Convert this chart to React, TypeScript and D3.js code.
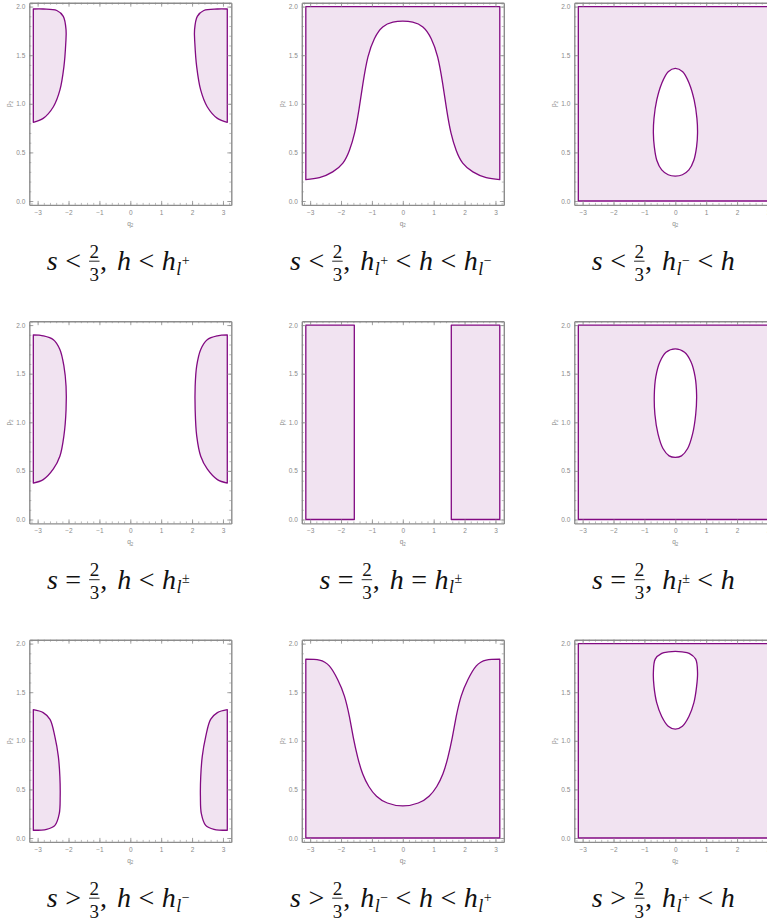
import React, { useEffect, useRef } from "react";
import * as d3 from "d3";

const W = 767;
const H = 922;

// tick values of every frame
const xMajor = [-3, -2, -1, 0, 1, 2, 3];
const yMajor = [0, 0.5, 1, 1.5, 2];

// boundary curves, [q2, p2]
const lobeA_left = [[-3.14, 0.81], [-2.82, 0.85], [-2.49, 0.97], [-2.28, 1.14], [-2.15, 1.38], [-2.09, 1.62], [-2.08, 1.76], [-2.17, 1.9], [-2.38, 1.96], [-2.82, 1.975], [-3.14, 1.975]];
const lobeA_right = [[3.14, 0.81], [2.82, 0.85], [2.49, 0.97], [2.28, 1.14], [2.15, 1.38], [2.09, 1.62], [2.08, 1.76], [2.17, 1.9], [2.38, 1.96], [2.82, 1.975], [3.14, 1.975]];
const bellB = [[-3.14, 0.22], [-2.7, 0.24], [-2.27, 0.3], [-1.94, 0.39], [-1.73, 0.52], [-1.56, 0.7], [-1.42, 0.94], [-1.29, 1.21], [-1.13, 1.48], [-0.92, 1.67], [-0.65, 1.79], [-0.32, 1.84], [0, 1.85], [0.32, 1.84], [0.65, 1.79], [0.92, 1.67], [1.13, 1.48], [1.29, 1.21], [1.42, 0.94], [1.56, 0.7], [1.73, 0.52], [1.94, 0.39], [2.27, 0.3], [2.7, 0.24], [3.14, 0.22]];
const eggC = [[0, 1.365], [-0.23, 1.33], [-0.44, 1.21], [-0.6, 1.04], [-0.69, 0.85], [-0.71, 0.7], [-0.68, 0.56], [-0.6, 0.42], [-0.44, 0.32], [-0.23, 0.27], [0, 0.257], [0.23, 0.27], [0.44, 0.32], [0.6, 0.42], [0.69, 0.56], [0.72, 0.7], [0.7, 0.85], [0.61, 1.04], [0.45, 1.21], [0.24, 1.33]];
const lobeD_left = [[-3.14, 0.375], [-2.82, 0.41], [-2.49, 0.52], [-2.28, 0.65], [-2.15, 0.86], [-2.08, 1.13], [-2.08, 1.37], [-2.15, 1.58], [-2.28, 1.75], [-2.49, 1.85], [-2.82, 1.89], [-3.14, 1.9]];
const lobeD_right = [[3.14, 0.375], [2.82, 0.41], [2.49, 0.52], [2.28, 0.65], [2.15, 0.86], [2.1, 1.13], [2.1, 1.37], [2.15, 1.58], [2.28, 1.75], [2.49, 1.85], [2.82, 1.89], [3.14, 1.9]];
const stripsE = [[-3.14, -1.57], [1.57, 3.14]];
const eggF = [[0, 1.755], [-0.3, 1.72], [-0.5, 1.62], [-0.63, 1.47], [-0.68, 1.28], [-0.66, 1.08], [-0.56, 0.88], [-0.4, 0.73], [-0.2, 0.655], [0, 0.64], [0.2, 0.655], [0.4, 0.73], [0.56, 0.88], [0.66, 1.08], [0.69, 1.28], [0.64, 1.47], [0.51, 1.62], [0.3, 1.72]];
const lobeG_left = [[-3.14, 1.32], [-2.82, 1.29], [-2.6, 1.22], [-2.44, 1.04], [-2.33, 0.84], [-2.28, 0.63], [-2.27, 0.43], [-2.3, 0.25], [-2.44, 0.13], [-2.71, 0.09], [-3.14, 0.08]];
const lobeG_right = [[3.14, 1.32], [2.82, 1.29], [2.6, 1.22], [2.44, 1.04], [2.33, 0.84], [2.28, 0.63], [2.27, 0.43], [2.3, 0.25], [2.44, 0.13], [2.71, 0.09], [3.14, 0.08]];
const bellH = [[-3.14, 1.84], [-2.7, 1.83], [-2.38, 1.77], [-2.11, 1.63], [-1.89, 1.46], [-1.73, 1.25], [-1.6, 1.03], [-1.46, 0.83], [-1.3, 0.66], [-1.1, 0.53], [-0.85, 0.43], [-0.5, 0.36], [0, 0.33], [0.5, 0.36], [0.85, 0.43], [1.1, 0.53], [1.3, 0.66], [1.46, 0.83], [1.6, 1.03], [1.73, 1.25], [1.89, 1.46], [2.11, 1.63], [2.38, 1.77], [2.7, 1.83], [3.14, 1.84]];
const eggI = [[0, 1.92], [-0.22, 1.915], [-0.44, 1.9], [-0.65, 1.84], [-0.71, 1.7], [-0.69, 1.56], [-0.6, 1.39], [-0.44, 1.25], [-0.23, 1.15], [0, 1.12], [0.23, 1.15], [0.44, 1.25], [0.6, 1.39], [0.69, 1.56], [0.72, 1.7], [0.66, 1.84], [0.45, 1.9], [0.22, 1.915]];

// captions, tokenised: "h:+" means h with subscript l and superscript sign
const captions = [
  ["s", "<", "2/3", ",", "h", "<", "h:+"],
  ["s", "<", "2/3", ",", "h:+", "<", "h", "<", "h:\u2212"],
  ["s", "<", "2/3", ",", "h:\u2212", "<", "h"],
  ["s", "=", "2/3", ",", "h", "<", "h:\u00b1"],
  ["s", "=", "2/3", ",", "h", "=", "h:\u00b1"],
  ["s", "=", "2/3", ",", "h:\u00b1", "<", "h"],
  ["s", ">", "2/3", ",", "h", "<", "h:\u2212"],
  ["s", ">", "2/3", ",", "h:\u2212", "<", "h", "<", "h:+"],
  ["s", ">", "2/3", ",", "h:+", "<", "h"],
];

const FILL = "#f1e3f1";
const LINE = "#820a82";
const FRAME = "#8c8c8c";
const SERIF = "'Liberation Serif', 'Times New Roman', serif";

const App = () => {
  const ref = useRef<SVGSVGElement>(null);

  useEffect(() => {
    const svg = d3.select(ref.current);
    svg.selectAll("*").remove();

    const curve = d3.line<number[]>().curve(d3.curveCatmullRom.alpha(0.5));
    const smoothX = d3.line<number[]>().curve(d3.curveNatural);
    const loop = d3.line<number[]>().curve(d3.curveCatmullRomClosed.alpha(0.5));

    for (let i = 0; i < 9; i++) {
      const col = i % 3;
      const row = Math.floor(i / 3);
      const x0 = 130.3 + 272.5 * col;
      const y0 = 201 + 318.5 * row;

      const x = d3.scaleLinear().domain([-3.27, 3.27]).range([x0 - 101, x0 + 101]);
      const y = d3.scaleLinear().domain([-0.04, 2.04]).range([y0 + 3.9, y0 - 198.3]);
      const P = (pts: number[][]) => pts.map(d => [x(d[0]), y(d[1])]);
      const rect = (q1: number, q2: number, p1: number, p2: number) =>
        `M${x(q1)},${y(p1)}L${x(q2)},${y(p1)}L${x(q2)},${y(p2)}L${x(q1)},${y(p2)}Z`;

      const g = svg.append("g");

      // region shapes
      let paths: string[] = [];
      let rule = "nonzero";
      if (i === 0) paths = [curve(P(lobeA_left)) + "Z", curve(P(lobeA_right)) + "Z"];
      if (i === 3) paths = [curve(P(lobeD_left)) + "Z", curve(P(lobeD_right)) + "Z"];
      if (i === 6) paths = [curve(P(lobeG_left)) + "Z", curve(P(lobeG_right)) + "Z"];
      if (i === 1) paths = [smoothX(P(bellB)) + `L${x(3.14)},${y(2)}L${x(-3.14)},${y(2)}Z`];
      if (i === 7) paths = [smoothX(P(bellH)) + `L${x(3.14)},${y(0)}L${x(-3.14)},${y(0)}Z`];
      if (i === 4) paths = stripsE.map(s => rect(s[0], s[1], 0, 2));
      if (i === 2 || i === 5 || i === 8) {
        const egg = i === 2 ? eggC : i === 5 ? eggF : eggI;
        paths = [rect(-3.14, 3.14, 0, 2) + loop(P(egg))];
        rule = "evenodd";
      }
      paths.forEach(d => {
        g.append("path").attr("d", d).attr("fill", FILL).attr("fill-rule", rule)
          .attr("stroke", LINE).attr("stroke-width", 1.3).attr("stroke-linejoin", "round");
      });

      // frame with ticks on all four sides
      const yb = y(-0.04), yt = y(2.04), xl = x(-3.27), xr = x(3.27);
      const minorX = d3.range(-3.2, 3.21, 0.2).map(v => +v.toFixed(1));
      const minorY = d3.range(0, 2.01, 0.1).map(v => +v.toFixed(1));
      const fmt = (v: number) => (v < 0 ? "\u2212" + Math.abs(v) : String(v));
      const fmtY = (v: number) => v.toFixed(1);

      const axes: [any, number, number, boolean][] = [
        [d3.axisBottom(x), 0, yb, true],
        [d3.axisTop(x), 0, yt, false],
        [d3.axisLeft(y), xl, 0, true],
        [d3.axisRight(y), xr, 0, false],
      ];
      axes.forEach(([ax, tx, ty, labels], k) => {
        const isX = k < 2;
        const maj = g.append("g").attr("transform", `translate(${tx},${ty})`).call(
          ax.tickValues(isX ? xMajor : yMajor).tickSize(-4).tickSizeOuter(0)
            .tickPadding(isX ? 5 : 4).tickFormat(labels ? (isX ? fmt : fmtY) : () => "")
        );
        maj.select(".domain").attr("stroke", FRAME).attr("stroke-width", 1.4);
        maj.selectAll(".tick line").attr("stroke", FRAME).attr("stroke-width", 0.8);
        maj.selectAll(".tick text").attr("fill", "#8a8a8a").attr("font-size", 6.5)
          .attr("font-family", "'Liberation Sans', Arial, sans-serif");
        const mn = g.append("g").attr("transform", `translate(${tx},${ty})`).call(
          ax.tickValues(isX ? minorX : minorY).tickSize(-2).tickSizeOuter(0).tickFormat(() => "")
        );
        mn.select(".domain").remove();
        mn.selectAll(".tick line").attr("stroke", FRAME).attr("stroke-width", 0.6);
      });

      // axis names
      const q = g.append("text").attr("x", x0).attr("y", y0 + 24.5).attr("text-anchor", "middle")
        .attr("fill", "#8a8a8a").attr("font-size", 6.5).attr("font-family", "'Liberation Sans', Arial, sans-serif");
      q.append("tspan").text("q");
      q.append("tspan").attr("font-size", 4.5).attr("dy", 1.5).text("2");
      const p = g.append("text").attr("transform", `translate(${x0 - 119},${y0 - 97}) rotate(-90)`)
        .attr("text-anchor", "middle").attr("fill", "#8a8a8a").attr("font-size", 6.5)
        .attr("font-family", "'Liberation Sans', Arial, sans-serif");
      p.append("tspan").text("p");
      p.append("tspan").attr("font-size", 4.5).attr("dy", 1.5).text("2");

      // caption in math style
      const cap = svg.append("g").attr("font-family", SERIF).attr("fill", "#111");
      let cx = 0;
      const FS = 28;
      const put = (s: string, size: number, dx: number, dy: number, italic: boolean) => {
        const t = cap.append("text").attr("x", cx + dx).attr("y", dy).attr("font-size", size)
          .attr("font-style", italic ? "italic" : "normal").text(s);
        return (t.node() as SVGTextElement).getComputedTextLength();
      };
      captions[i].forEach(tok => {
        if (tok === "<" || tok === ">" || tok === "=") {
          cx += 7.5;
          cx += put(tok, FS, 0, 0, false);
          cx += 7.5;
        } else if (tok === "2/3") {
          const [a, b] = tok.split("/");
          const t1 = cap.append("text").attr("y", -12.5).attr("font-size", 19).attr("text-anchor", "middle").text(a);
          const t2 = cap.append("text").attr("y", 10.5).attr("font-size", 19).attr("text-anchor", "middle").text(b);
          const w = Math.max((t1.node() as SVGTextElement).getComputedTextLength(), (t2.node() as SVGTextElement).getComputedTextLength()) + 2;
          t1.attr("x", cx + w / 2);
          t2.attr("x", cx + w / 2);
          cap.append("line").attr("x1", cx + 0.5).attr("x2", cx + w - 0.5).attr("y1", -8.8).attr("y2", -8.8)
            .attr("stroke", "#111").attr("stroke-width", 0.9);
          cx += w;
        } else if (tok === ",") {
          cx += put(",", FS, 0, 0, false);
          cx += 10;
        } else if (tok.startsWith("h:")) {
          cx += put("h", FS, 0, 0, true);
          cx += put("l", 18, 0.5, 4.5, true) + 1;
          cx += put(tok.slice(2), 14, 0, -5.5, false);
        } else {
          cx += put(tok, FS, 0, 0, true);
        }
      });
      cap.attr("transform", `translate(${x0 - 12 - cx / 2},${270 + 318.5 * row})`);
    }
  }, []);

  return (
    <svg ref={ref} width={W} height={H} style={{ position: "absolute", left: 0, top: 0, background: "#fff" }} />
  );
};

export default App;
